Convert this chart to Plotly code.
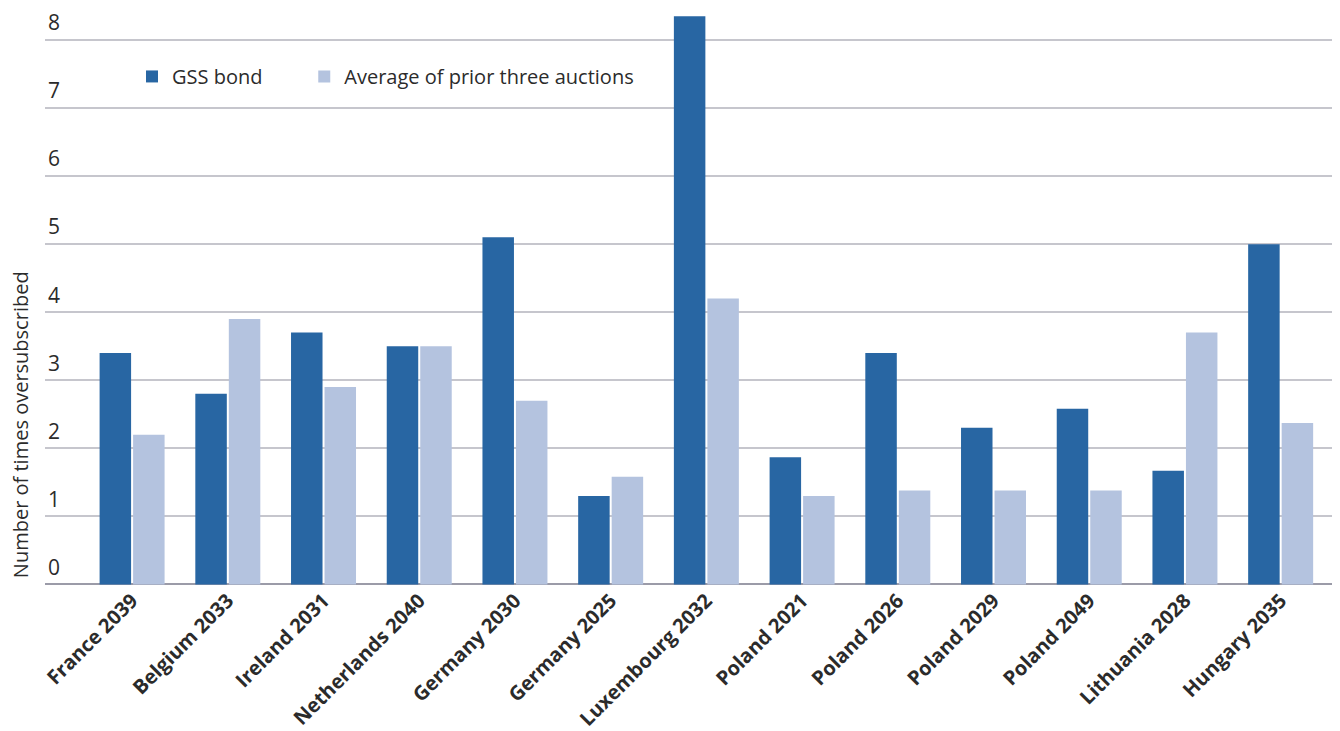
import plotly.graph_objects as go

categories = ["France 2039", "Belgium 2033", "Ireland 2031", "Netherlands 2040",
              "Germany 2030", "Germany 2025", "Luxembourg 2032", "Poland 2021",
              "Poland 2026", "Poland 2029", "Poland 2049", "Lithuania 2028",
              "Hungary 2035"]
gss_bond = [3.4, 2.8, 3.7, 3.5, 5.1, 1.3, 8.35, 1.87, 3.4, 2.3, 2.58, 1.67, 5.0]
prior_avg = [2.2, 3.9, 2.9, 3.5, 2.7, 1.58, 4.2, 1.3, 1.38, 1.38, 1.38, 3.7, 2.37]
y_ticks = [0, 1, 2, 3, 4, 5, 6, 7, 8]

DARK = "#2866A3"
LIGHT = "#B4C3DF"
FONT = "Open Sans"
TXT = "#2b2b2b"

fig = go.Figure()
fig.add_trace(go.Bar(x=categories, y=gss_bond, name="GSS bond", legend="legend",
                     marker=dict(color=DARK, line=dict(width=0))))
fig.add_trace(go.Bar(x=categories, y=prior_avg, name="Average of prior three auctions",
                     legend="legend2",
                     marker=dict(color=LIGHT, line=dict(width=0))))

leg_common = dict(orientation="h", xanchor="left", yanchor="middle", y=0.884,
                  font=dict(size=20, family=FONT, color=TXT),
                  bgcolor="rgba(0,0,0,0)")

# the page body adds an 8px offset, so the figure is 8px smaller than the window
fig.update_layout(
    width=1332, height=723,
    margin=dict(l=37, r=0, t=0, b=133.4, autoexpand=False),
    plot_bgcolor="white", paper_bgcolor="white",
    barmode="group", bargap=0.3, bargroupgap=0.06,
    font=dict(family=FONT, color=TXT, size=19),
    legend=dict(x=0.0672, **leg_common),
    legend2=dict(x=0.2002, **leg_common),
    showlegend=True,
)
fig.update_xaxes(
    type="category", range=[-0.91, 12.62], tickangle=-45,
    tickfont=dict(family=FONT, size=20, color=TXT, weight="bold"),
    showline=False, showgrid=False, ticks="", fixedrange=True,
    automargin=False, ticklabelstandoff=-14,
)
fig.update_yaxes(
    range=[-0.2, 8.47], tickvals=y_ticks, ticktext=[str(v) for v in y_ticks],
    ticklabelposition="outside", ticklabelshift=-17, ticklabelstandoff=-16,
    tickfont=dict(family=FONT, size=21, color=TXT),
    showgrid=True, gridcolor="#c6c6cd", gridwidth=1.5,
    zeroline=True, zerolinecolor="#9b9ba8", zerolinewidth=1.5,
    showline=False, ticks="", fixedrange=True, automargin=False,
)
fig.add_annotation(
    text="Number of times oversubscribed", textangle=-90,
    xref="paper", x=0, xanchor="center", xshift=-25,
    yref="y", y=2.34, yanchor="middle",
    showarrow=False, font=dict(family=FONT, size=20, color=TXT),
)

fig.write_html("out.html")
